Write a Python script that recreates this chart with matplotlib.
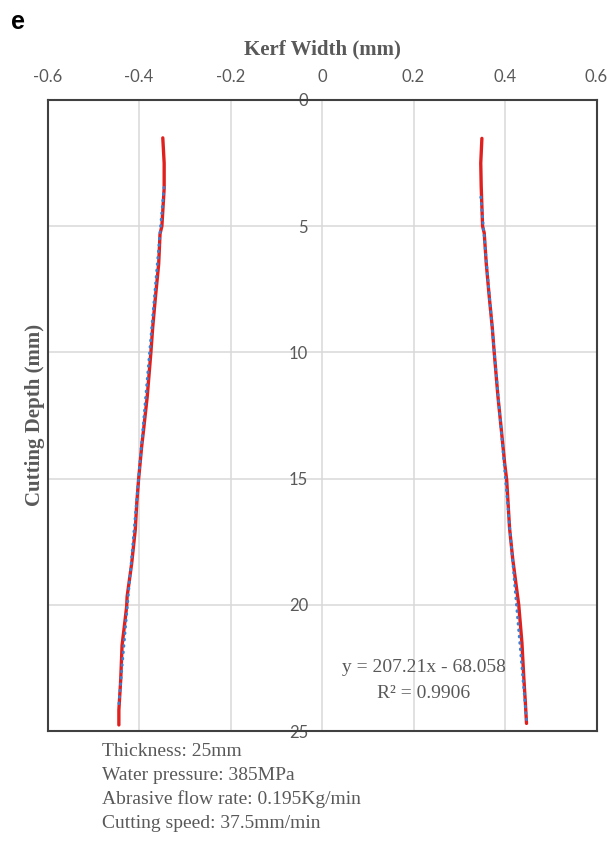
import numpy as np
import matplotlib
matplotlib.use("Agg")
import matplotlib.pyplot as plt

# Kerf profile, left wall (depth in mm, half-width in mm)
left_depth = [1.5, 2.5, 3.5, 5.0, 5.3, 6.5, 7.8, 9.0, 10.0, 11.75, 13.07, 13.7,
              15.05, 16.0, 17.0, 18.36, 19.68, 20.07, 21.0, 21.6, 22.06, 22.98,
              24.17, 24.76]
left_width = [-0.348, -0.345, -0.345, -0.350, -0.354, -0.357, -0.364, -0.370,
              -0.374, -0.382, -0.390, -0.394, -0.401, -0.405, -0.408, -0.416,
              -0.426, -0.427, -0.433, -0.437, -0.438, -0.440, -0.444, -0.444]

# Kerf profile, right wall
right_depth = [1.52, 2.5, 3.43, 5.0, 5.27, 6.47, 7.8, 8.98, 10.04, 11.75, 13.07,
               14.4, 15.05, 16.97, 18.2, 20.0, 21.5, 22.85, 23.9, 24.7]
right_width = [0.3495, 0.347, 0.348, 0.351, 0.3546, 0.359, 0.3656, 0.372, 0.3766,
               0.3846, 0.392, 0.3993, 0.4037, 0.410, 0.417, 0.430, 0.437, 0.441,
               0.4446, 0.447]

# Linear trendline of the right wall: depth = slope * width + intercept
fit_slope = 207.21
fit_intercept = -68.058
fit_r2 = 0.9906

x_ticks = [-0.6, -0.4, -0.2, 0, 0.2, 0.4, 0.6]
x_tick_labels = ["-0.6", "-0.4", "-0.2", "0", "0.2", "0.4", "0.6"]
y_ticks = [0, 5, 10, 15, 20, 25]
y_tick_labels = ["0", "5", "10", "15", "20", "25"]

notes = ["Thickness: 25mm",
         "Water pressure: 385MPa",
         "Abrasive flow rate: 0.195Kg/min",
         "Cutting speed: 37.5mm/min"]

RED = "#e0201e"
BLUE = "#3f7fd2"
GRID = "#d9d9d9"
SPINE = "#404040"
TEXT = "#595959"
SERIF = "Liberation Serif"
SANS = "Lato"

fig = plt.figure(figsize=(6.09, 8.49), dpi=100)
ax = fig.add_axes([47.5 / 609, 1 - 731 / 849, 549 / 609, 631 / 849])

ax.set_xlim(-0.6, 0.6)
ax.set_ylim(25, 0)

# grid
for gx in [-0.4, -0.2, 0.2, 0.4]:
    ax.axvline(gx, color=GRID, lw=1.1, zorder=0)
for gy in [5, 10, 15, 20]:
    ax.axhline(gy, color=GRID, lw=1.1, zorder=0)

# measured walls
ax.plot(left_width, left_depth, color=RED, lw=2.4, solid_capstyle="round", zorder=2)
ax.plot(right_width, right_depth, color=RED, lw=2.4, solid_capstyle="round", zorder=2)

# trendlines over each wall's width range
dotted = dict(color=BLUE, lw=2.0, linestyle=(0, (0.3, 2.0)),
              dash_capstyle="round", zorder=3)
rw = np.linspace(min(right_width), max(right_width), 50)
ax.plot(rw, fit_slope * rw + fit_intercept, **dotted)
lcoef = np.polyfit(left_width, left_depth, 1)
lw_ = np.linspace(min(left_width), max(left_width), 50)
ax.plot(lw_, np.polyval(lcoef, lw_), **dotted)

# axes frame: vertical axis crosses at x = 0
ax.spines["left"].set_position(("data", 0))
ax.spines["left"].set_color(GRID)
ax.spines["left"].set_linewidth(1.1)
ax.spines["left"].set_zorder(0)
for s in ["top", "bottom", "right"]:
    ax.spines[s].set_color(SPINE)
    ax.spines[s].set_linewidth(1.5)
ax.axvline(-0.6, color=SPINE, lw=1.5, clip_on=False, zorder=4)

ax.xaxis.tick_top()
ax.set_xticks(x_ticks)
ax.set_xticklabels(x_tick_labels, fontfamily=SANS, fontsize=12, color=TEXT)
ax.tick_params(axis="x", length=0, pad=11)
ax.set_yticks(y_ticks)
ax.set_yticklabels(y_tick_labels, fontfamily=SANS, fontsize=12, color=TEXT)
ax.tick_params(axis="y", length=0, pad=10)

ax.xaxis.set_label_position("top")
ax.set_xlabel("Kerf Width (mm)", fontfamily=SERIF, fontweight="bold",
              fontsize=15, color=TEXT, labelpad=10)
fig.text(35 / 609, 1 - 415 / 849, "Cutting Depth (mm)", rotation=90,
         ha="center", va="center", fontfamily=SERIF, fontweight="bold",
         fontsize=15, color=TEXT)

ax.text(0.223, 22.5, f"y = {fit_slope}x - {abs(fit_intercept)}", ha="center",
        va="center", fontfamily=SERIF, fontsize=14, color=TEXT)
ax.text(0.223, 23.5, f"R\u00b2 = {fit_r2}", ha="center", va="center",
        fontfamily=SERIF, fontsize=14, color=TEXT)

for i, line in enumerate(notes):
    fig.text(102 / 609, 1 - (752 + 23.7 * i) / 849, line, ha="left", va="center",
             fontfamily=SERIF, fontsize=14, color=TEXT)

fig.text(11 / 609, 1 - 22 / 849, "e", ha="left", va="center",
         fontfamily="Liberation Sans", fontweight="bold", fontsize=18, color="black")

fig.savefig("out.png", dpi=100)
